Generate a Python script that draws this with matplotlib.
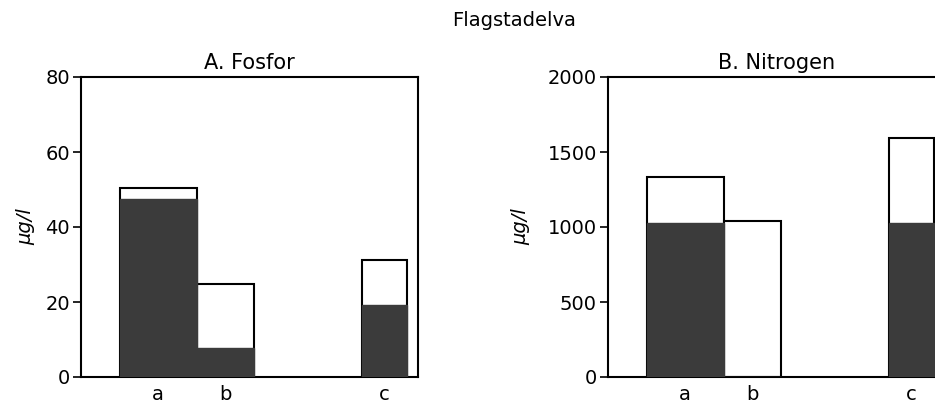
import matplotlib
matplotlib.use('Agg')
import matplotlib.pyplot as plt

plt.rcParams['font.family'] = ['DejaVu Sans']

# Data
categories = ['a', 'b', 'c']
fosfor_total = [50.3, 24.7, 31.2]
fosfor_dark = [47.5, 7.7, 19.2]
nitrogen_total = [1335, 1042, 1595]
nitrogen_dark = [1030, 0, 1030]

# layout of the bars (left edge, width) in axis units
lefts = [1.0, 3.0, 7.3]
widths = [2.0, 1.5, 1.17]
dark = '#3b3b3b'

fig = plt.figure(figsize=(9.35, 4.07), dpi=100)
ax1 = fig.add_axes([81 / 935, 30 / 407, 337 / 935, 300 / 407])
ax2 = fig.add_axes([608 / 935, 30 / 407, 337 / 935, 300 / 407])


def draw(ax, total, part, ymax, step, title):
    ax.bar(lefts, total, width=widths, align='edge', color='white',
           edgecolor='black', linewidth=1.5, zorder=2)
    ax.bar(lefts, part, width=widths, align='edge', color=dark,
           edgecolor=dark, linewidth=1.0, zorder=3)
    ax.set_xlim(0, 8.75)
    ax.set_ylim(0, ymax)
    ax.set_yticks(range(0, ymax + 1, step))
    ax.set_xticks([l + w / 2 for l, w in zip(lefts, widths)])
    ax.set_xticklabels(categories)
    ax.tick_params(axis='x', length=0, pad=6, labelsize=14)
    ax.tick_params(axis='y', length=6, width=1.2, labelsize=14, pad=2)
    for s in ax.spines.values():
        s.set_linewidth(1.5)
    ax.set_ylabel('µg/l', fontsize=14, style='italic')
    ax.set_title(title, fontsize=15, pad=6)


draw(ax1, fosfor_total, fosfor_dark, 80, 20, 'A. Fosfor')
draw(ax2, nitrogen_total, nitrogen_dark, 2000, 500, 'B. Nitrogen')
ax1.yaxis.set_label_coords(-0.135, 0.5)
ax2.yaxis.set_label_coords(-0.23, 0.5)

fig.text(514 / 935, 1 - 20 / 407, 'Flagstadelva', ha='center', va='center',
         fontsize=14)

fig.savefig('out.png', dpi=100)
